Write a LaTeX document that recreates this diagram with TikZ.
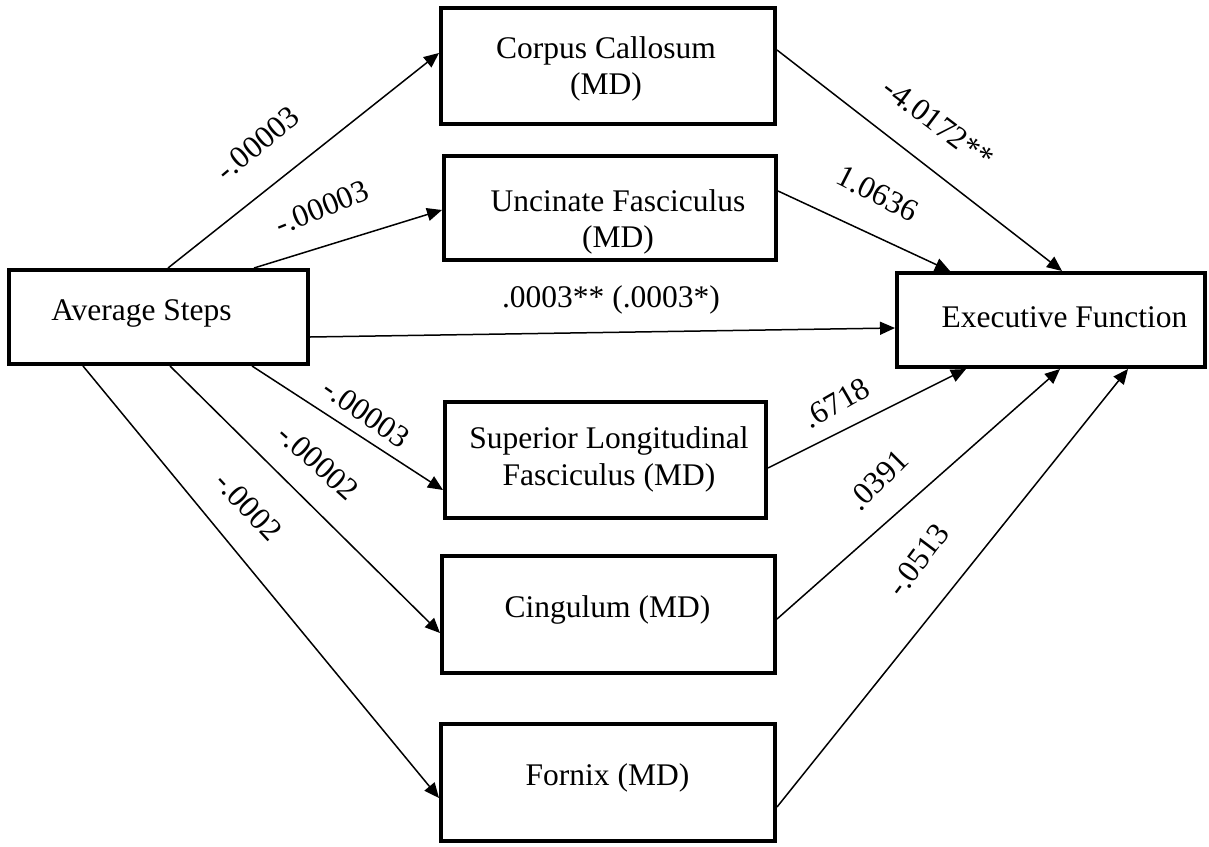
\documentclass[tikz,border=0pt]{standalone}
\usepackage{fontspec}
\setmainfont{Liberation Serif}
\usetikzlibrary{arrows.meta,calc}

\tikzset{
  every node/.style={font=\fontsize{31.5}{36.5}\selectfont},
  box/.style={draw, line width=4pt, inner sep=0pt},
  txt/.style={inner sep=0pt, align=center},
  coef/.style={inner sep=0pt},
  path/.style={line width=1.5pt, -{Triangle[length=15pt,width=13pt]}},
}

\begin{document}
\begin{tikzpicture}[x=1pt, y=-1pt]
  \useasboundingbox (0,0) rectangle (1209,846);

  % boxes
  \node[box, minimum width=299pt, minimum height=94pt]  (avg) at (158.5,317)   {};
  \node[box, minimum width=334pt, minimum height=116pt] (cc)  at (608,66)      {};
  \node[box, minimum width=332pt, minimum height=104pt] (uf)  at (610,208)     {};
  \node[box, minimum width=321pt, minimum height=116pt] (slf) at (605.5,460)   {};
  \node[box, minimum width=333pt, minimum height=117pt] (cg)  at (608.5,614.5) {};
  \node[box, minimum width=334pt, minimum height=117pt] (fx)  at (608,782.5)   {};
  \node[box, minimum width=308pt, minimum height=94pt]  (ef)  at (1051,320)    {};

  % box texts
  \node[txt] (avgt) at ($(avg)+(-17,-4)$)  {Average Steps};
  \node[txt] (cct)  at ($(cc)+(-2,3)$)     {Corpus Callosum\\(MD)};
  \node[txt] (uft)  at ($(uf)+(8,14)$)     {Uncinate Fasciculus\\(MD)};
  \node[txt] (slft) at ($(slf)+(3.5,-0.5)$) {Superior Longitudinal\\Fasciculus (MD)};
  \node[txt] (cgt)  at ($(cg)+(-1,-5)$)    {Cingulum (MD)};
  \node[txt] (fxt)  at ($(fx)+(-0.5,-5)$)  {Fornix (MD)};
  \node[txt] (eft)  at ($(ef)+(13.5,-2.4)$) {Executive Function};

  % paths from the predictor
  \draw[path] ($(avg.north west)+(161,0)$) -- ($(cc.west)+(0,-13)$);
  \draw[path] ($(avg.north west)+(247,0)$) -- ($(uf.west)+(0,2)$);
  \draw[path] ($(avg.east)+(0,20)$)        -- ($(ef.west)+(0,8)$);
  \draw[path] ($(avg.south west)+(245,0)$) -- ($(slf.west)+(0,30)$);
  \draw[path] ($(avg.south west)+(163,0)$) -- ($(cg.west)+(0,18.5)$);
  \draw[path] ($(avg.south west)+(76,0)$)  -- ($(fx.west)+(0,15.5)$);

  % paths to the outcome
  \draw[path] ($(cc.east)+(0,-16)$)   -- ($(ef.north west)+(167,0)$);
  \draw[path] ($(uf.east)+(0,-17)$)   -- ($(ef.north west)+(55,0)$);
  \draw[path] ($(slf.east)+(0,8)$)    -- ($(ef.south west)+(71,0)$);
  \draw[path] ($(cg.east)+(0,4.5)$)   -- ($(ef.south west)+(165,0)$);
  \draw[path] ($(fx.east)+(0,24.5)$)  -- ($(ef.south west)+(233,0)$);

  % coefficients
  \node[coef, rotate=40]  (c1)  at (257.5,143.5) {-.00003};
  \node[coef, rotate=22]  (c2)  at (322,207.5)   {-.00003};
  \node[coef]             (c3)  at (611,300)     {.0003** (.0003*)};
  \node[coef, rotate=-37] (c4)  at (938.5,123.5) {-4.0172**};
  \node[coef, rotate=-27] (c5)  at (877.5,193.5) {1.0636};
  \node[coef, rotate=30]  (c6)  at (836.5,403)   {.6718};
  \node[coef, rotate=45]  (c7)  at (878,480)     {.0391};
  \node[coef, rotate=53]  (c8)  at (918,560)     {-.0513};
  \node[coef, rotate=-35] (c9)  at (366.5,413)   {-.00003};
  \node[coef, rotate=-42] (c10) at (318,462)     {-.00002};
  \node[coef, rotate=-47] (c11) at (248.5,506.5) {-.0002};
\end{tikzpicture}
\end{document}
